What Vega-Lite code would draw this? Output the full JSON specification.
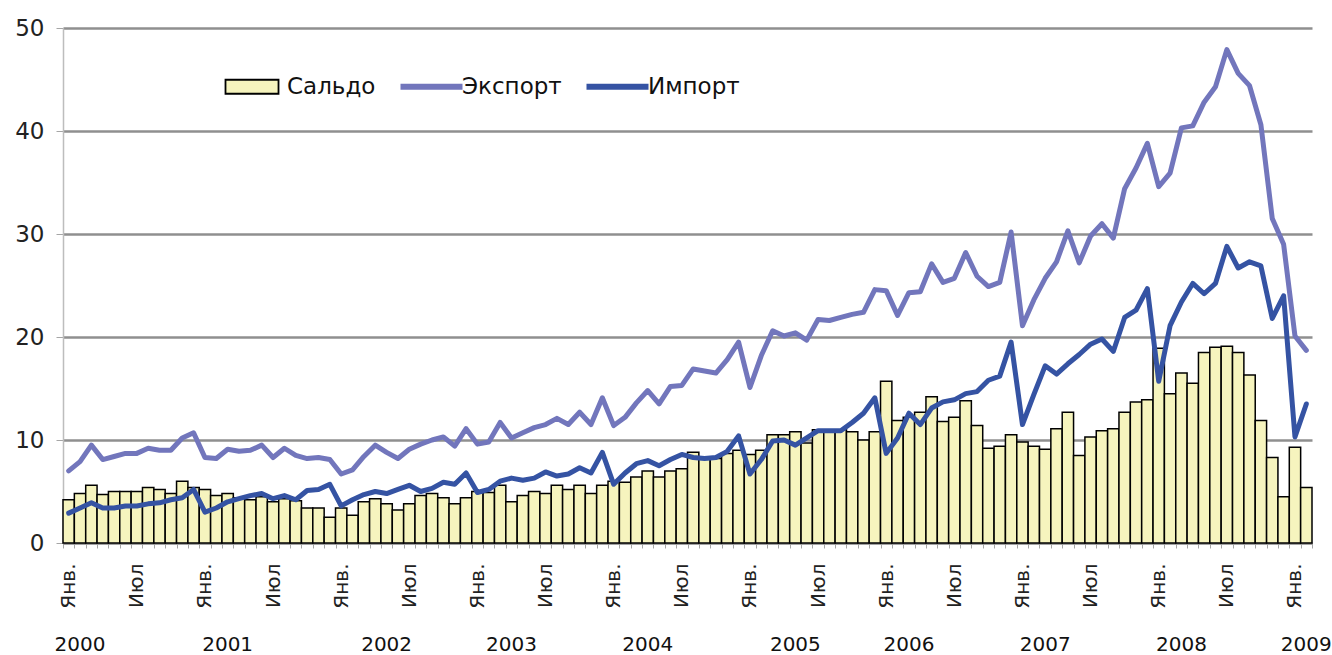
{
  "$schema": "https://vega.github.io/schema/vega-lite/v6.json",
  "width": 1249,
  "height": 515,
  "autosize": {"type": "none"},
  "padding": {"left": 63, "top": 28, "right": 20, "bottom": 112},
  "background": "white",
  "config": {
    "view": {"stroke": null},
    "font": "DejaVu Sans",
    "axis": {"labelFont": "DejaVu Sans", "labelColor": "#222222"},
    "legend": {"title": null}
  },
  "data": {
    "values": [
      {"month": "2000-01", "Сальдо": 4.2, "Экспорт": 7.0, "Импорт": 2.9},
      {"month": "2000-02", "Сальдо": 4.8, "Экспорт": 7.9, "Импорт": 3.4},
      {"month": "2000-03", "Сальдо": 5.6, "Экспорт": 9.5, "Импорт": 3.9},
      {"month": "2000-04", "Сальдо": 4.7, "Экспорт": 8.1, "Импорт": 3.4},
      {"month": "2000-05", "Сальдо": 5.0, "Экспорт": 8.4, "Импорт": 3.4},
      {"month": "2000-06", "Сальдо": 5.0, "Экспорт": 8.7, "Импорт": 3.6},
      {"month": "2000-07", "Сальдо": 5.0, "Экспорт": 8.7, "Импорт": 3.6},
      {"month": "2000-08", "Сальдо": 5.4, "Экспорт": 9.2, "Импорт": 3.8},
      {"month": "2000-09", "Сальдо": 5.2, "Экспорт": 9.0, "Импорт": 3.9},
      {"month": "2000-10", "Сальдо": 4.8, "Экспорт": 9.0, "Импорт": 4.2},
      {"month": "2000-11", "Сальдо": 6.0, "Экспорт": 10.2, "Импорт": 4.4},
      {"month": "2000-12", "Сальдо": 5.4, "Экспорт": 10.7, "Импорт": 5.2},
      {"month": "2001-01", "Сальдо": 5.2, "Экспорт": 8.3, "Импорт": 3.0},
      {"month": "2001-02", "Сальдо": 4.6, "Экспорт": 8.2, "Импорт": 3.4},
      {"month": "2001-03", "Сальдо": 4.8, "Экспорт": 9.1, "Импорт": 4.0},
      {"month": "2001-04", "Сальдо": 4.4, "Экспорт": 8.9, "Импорт": 4.3},
      {"month": "2001-05", "Сальдо": 4.2, "Экспорт": 9.0, "Импорт": 4.6},
      {"month": "2001-06", "Сальдо": 4.5, "Экспорт": 9.5, "Импорт": 4.8},
      {"month": "2001-07", "Сальдо": 4.0, "Экспорт": 8.3, "Импорт": 4.3},
      {"month": "2001-08", "Сальдо": 4.3, "Экспорт": 9.2, "Импорт": 4.6},
      {"month": "2001-09", "Сальдо": 4.1, "Экспорт": 8.5, "Импорт": 4.2},
      {"month": "2001-10", "Сальдо": 3.4, "Экспорт": 8.2, "Импорт": 5.1},
      {"month": "2001-11", "Сальдо": 3.4, "Экспорт": 8.3, "Импорт": 5.2},
      {"month": "2001-12", "Сальдо": 2.5, "Экспорт": 8.1, "Импорт": 5.7},
      {"month": "2002-01", "Сальдо": 3.4, "Экспорт": 6.7, "Импорт": 3.6},
      {"month": "2002-02", "Сальдо": 2.7, "Экспорт": 7.1, "Импорт": 4.2},
      {"month": "2002-03", "Сальдо": 4.0, "Экспорт": 8.4, "Импорт": 4.7},
      {"month": "2002-04", "Сальдо": 4.3, "Экспорт": 9.5, "Импорт": 5.0},
      {"month": "2002-05", "Сальдо": 3.8, "Экспорт": 8.8, "Импорт": 4.8},
      {"month": "2002-06", "Сальдо": 3.2, "Экспорт": 8.2, "Импорт": 5.2},
      {"month": "2002-07", "Сальдо": 3.8, "Экспорт": 9.1, "Импорт": 5.6},
      {"month": "2002-08", "Сальдо": 4.6, "Экспорт": 9.6, "Импорт": 5.0},
      {"month": "2002-09", "Сальдо": 4.8, "Экспорт": 10.0, "Импорт": 5.3},
      {"month": "2002-10", "Сальдо": 4.4, "Экспорт": 10.3, "Импорт": 5.9},
      {"month": "2002-11", "Сальдо": 3.8, "Экспорт": 9.4, "Импорт": 5.7},
      {"month": "2002-12", "Сальдо": 4.4, "Экспорт": 11.1, "Импорт": 6.8},
      {"month": "2003-01", "Сальдо": 5.0, "Экспорт": 9.6, "Импорт": 4.9},
      {"month": "2003-02", "Сальдо": 4.9, "Экспорт": 9.8, "Импорт": 5.2},
      {"month": "2003-03", "Сальдо": 5.6, "Экспорт": 11.7, "Импорт": 6.0},
      {"month": "2003-04", "Сальдо": 4.0, "Экспорт": 10.2, "Импорт": 6.3},
      {"month": "2003-05", "Сальдо": 4.6, "Экспорт": 10.7, "Импорт": 6.1},
      {"month": "2003-06", "Сальдо": 5.0, "Экспорт": 11.2, "Импорт": 6.3},
      {"month": "2003-07", "Сальдо": 4.8, "Экспорт": 11.5, "Импорт": 6.9},
      {"month": "2003-08", "Сальдо": 5.6, "Экспорт": 12.1, "Импорт": 6.5},
      {"month": "2003-09", "Сальдо": 5.2, "Экспорт": 11.5, "Импорт": 6.7},
      {"month": "2003-10", "Сальдо": 5.6, "Экспорт": 12.7, "Импорт": 7.3},
      {"month": "2003-11", "Сальдо": 4.8, "Экспорт": 11.5, "Импорт": 6.8},
      {"month": "2003-12", "Сальдо": 5.6, "Экспорт": 14.1, "Импорт": 8.8},
      {"month": "2004-01", "Сальдо": 6.0, "Экспорт": 11.4, "Импорт": 5.7},
      {"month": "2004-02", "Сальдо": 5.9, "Экспорт": 12.2, "Импорт": 6.8},
      {"month": "2004-03", "Сальдо": 6.4, "Экспорт": 13.6, "Импорт": 7.7},
      {"month": "2004-04", "Сальдо": 7.0, "Экспорт": 14.8, "Импорт": 8.0},
      {"month": "2004-05", "Сальдо": 6.4, "Экспорт": 13.5, "Импорт": 7.5},
      {"month": "2004-06", "Сальдо": 7.0, "Экспорт": 15.2, "Импорт": 8.1},
      {"month": "2004-07", "Сальдо": 7.2, "Экспорт": 15.3, "Импорт": 8.6},
      {"month": "2004-08", "Сальдо": 8.8, "Экспорт": 16.9, "Импорт": 8.3},
      {"month": "2004-09", "Сальдо": 8.3, "Экспорт": 16.7, "Импорт": 8.2},
      {"month": "2004-10", "Сальдо": 8.2, "Экспорт": 16.5, "Импорт": 8.3},
      {"month": "2004-11", "Сальдо": 8.7, "Экспорт": 17.8, "Импорт": 8.9},
      {"month": "2004-12", "Сальдо": 9.0, "Экспорт": 19.5, "Импорт": 10.4},
      {"month": "2005-01", "Сальдо": 8.6, "Экспорт": 15.1, "Импорт": 6.7},
      {"month": "2005-02", "Сальдо": 9.0, "Экспорт": 18.2, "Импорт": 8.1},
      {"month": "2005-03", "Сальдо": 10.5, "Экспорт": 20.6, "Импорт": 9.9},
      {"month": "2005-04", "Сальдо": 10.5, "Экспорт": 20.1, "Импорт": 10.0},
      {"month": "2005-05", "Сальдо": 10.8, "Экспорт": 20.4, "Импорт": 9.5},
      {"month": "2005-06", "Сальдо": 9.7, "Экспорт": 19.7, "Импорт": 10.2},
      {"month": "2005-07", "Сальдо": 11.0, "Экспорт": 21.7, "Импорт": 10.9},
      {"month": "2005-08", "Сальдо": 11.0, "Экспорт": 21.6, "Импорт": 10.9},
      {"month": "2005-09", "Сальдо": 11.0, "Экспорт": 21.9, "Импорт": 10.9},
      {"month": "2005-10", "Сальдо": 10.8, "Экспорт": 22.2, "Импорт": 11.7},
      {"month": "2005-11", "Сальдо": 10.0, "Экспорт": 22.4, "Импорт": 12.6},
      {"month": "2005-12", "Сальдо": 10.8, "Экспорт": 24.6, "Импорт": 14.1},
      {"month": "2006-01", "Сальдо": 15.7, "Экспорт": 24.5, "Импорт": 8.7},
      {"month": "2006-02", "Сальдо": 11.9, "Экспорт": 22.1, "Импорт": 10.2},
      {"month": "2006-03", "Сальдо": 12.2, "Экспорт": 24.3, "Импорт": 12.6},
      {"month": "2006-04", "Сальдо": 12.7, "Экспорт": 24.4, "Импорт": 11.5},
      {"month": "2006-05", "Сальдо": 14.2, "Экспорт": 27.1, "Импорт": 13.1},
      {"month": "2006-06", "Сальдо": 11.8, "Экспорт": 25.3, "Импорт": 13.7},
      {"month": "2006-07", "Сальдо": 12.2, "Экспорт": 25.7, "Импорт": 13.9},
      {"month": "2006-08", "Сальдо": 13.8, "Экспорт": 28.2, "Импорт": 14.5},
      {"month": "2006-09", "Сальдо": 11.4, "Экспорт": 25.9, "Импорт": 14.7},
      {"month": "2006-10", "Сальдо": 9.2, "Экспорт": 24.9, "Импорт": 15.8},
      {"month": "2006-11", "Сальдо": 9.4, "Экспорт": 25.3, "Импорт": 16.2},
      {"month": "2006-12", "Сальдо": 10.5, "Экспорт": 30.2, "Импорт": 19.5},
      {"month": "2007-01", "Сальдо": 9.8, "Экспорт": 21.1, "Импорт": 11.5},
      {"month": "2007-02", "Сальдо": 9.4, "Экспорт": 23.6, "Импорт": 14.4},
      {"month": "2007-03", "Сальдо": 9.1, "Экспорт": 25.7, "Импорт": 17.2},
      {"month": "2007-04", "Сальдо": 11.1, "Экспорт": 27.3, "Импорт": 16.4},
      {"month": "2007-05", "Сальдо": 12.7, "Экспорт": 30.3, "Импорт": 17.4},
      {"month": "2007-06", "Сальдо": 8.5, "Экспорт": 27.2, "Импорт": 18.3},
      {"month": "2007-07", "Сальдо": 10.3, "Экспорт": 29.8, "Импорт": 19.3},
      {"month": "2007-08", "Сальдо": 10.9, "Экспорт": 31.0, "Импорт": 19.8},
      {"month": "2007-09", "Сальдо": 11.1, "Экспорт": 29.6, "Импорт": 18.6},
      {"month": "2007-10", "Сальдо": 12.7, "Экспорт": 34.4, "Импорт": 21.9},
      {"month": "2007-11", "Сальдо": 13.7, "Экспорт": 36.4, "Импорт": 22.6},
      {"month": "2007-12", "Сальдо": 13.9, "Экспорт": 38.8, "Импорт": 24.7},
      {"month": "2008-01", "Сальдо": 18.9, "Экспорт": 34.6, "Импорт": 15.7},
      {"month": "2008-02", "Сальдо": 14.5, "Экспорт": 35.9, "Импорт": 21.1},
      {"month": "2008-03", "Сальдо": 16.5, "Экспорт": 40.3, "Импорт": 23.4},
      {"month": "2008-04", "Сальдо": 15.5, "Экспорт": 40.5, "Импорт": 25.2},
      {"month": "2008-05", "Сальдо": 18.5, "Экспорт": 42.8, "Импорт": 24.2},
      {"month": "2008-06", "Сальдо": 19.0, "Экспорт": 44.3, "Импорт": 25.2},
      {"month": "2008-07", "Сальдо": 19.1, "Экспорт": 47.9, "Импорт": 28.8},
      {"month": "2008-08", "Сальдо": 18.5, "Экспорт": 45.6, "Импорт": 26.7},
      {"month": "2008-09", "Сальдо": 16.3, "Экспорт": 44.4, "Импорт": 27.3},
      {"month": "2008-10", "Сальдо": 11.9, "Экспорт": 40.6, "Импорт": 26.9},
      {"month": "2008-11", "Сальдо": 8.3, "Экспорт": 31.5, "Импорт": 21.8},
      {"month": "2008-12", "Сальдо": 4.5, "Экспорт": 29.0, "Импорт": 24.0},
      {"month": "2009-01", "Сальдо": 9.3, "Экспорт": 20.1, "Импорт": 10.3},
      {"month": "2009-02", "Сальдо": 5.4, "Экспорт": 18.7, "Импорт": 13.5}
    ]
  },
  "encoding": {
    "x": {
      "field": "month",
      "type": "ordinal",
      "scale": {"paddingInner": 0, "paddingOuter": 0},
      "axis": {
        "title": null,
        "tickBand": "extent",
        "tickSize": 5,
        "tickColor": "#a6a6a6",
        "domainColor": "#8c8c8c",
        "domainWidth": 1.5,
        "labelAngle": 270,
        "labelAlign": "right",
        "labelBaseline": "middle",
        "labelPadding": 15,
        "labelFontSize": 20,
        "labelOverlap": false,
        "labelExpr": "substring(datum.value,5,7)=='01' ? 'Янв.' : (substring(datum.value,5,7)=='07' ? 'Июл' : '')"
      }
    }
  },
  "layer": [
    {
      "mark": {"type": "bar", "fill": "#f6f4be", "stroke": "#000000", "strokeWidth": 1.5},
      "encoding": {
        "y": {
          "field": "Сальдо",
          "type": "quantitative",
          "scale": {"domain": [0, 50]},
          "axis": {
            "title": null,
            "values": [0, 10, 20, 30, 40, 50],
            "grid": true,
            "gridColor": "#8f8f8f",
            "gridWidth": 2.5,
            "domainColor": "#bdbdbd",
            "domainWidth": 1.5,
            "tickColor": "#a6a6a6",
            "tickSize": 7,
            "labelFontSize": 23,
            "labelPadding": 12
          }
        }
      }
    },
    {
      "transform": [{"fold": ["Экспорт", "Импорт"], "as": ["series", "value"]}],
      "mark": {"type": "line", "strokeWidth": 5, "strokeJoin": "round", "strokeCap": "round"},
      "encoding": {
        "y": {"field": "value", "type": "quantitative"},
        "color": {
          "field": "series",
          "type": "nominal",
          "scale": {
            "domain": ["Сальдо", "Экспорт", "Импорт"],
            "range": ["#000000", "#7276bc", "#3553a3"]
          },
          "legend": {
            "title": null,
            "orient": "none",
            "legendX": 182,
            "legendY": 47,
            "direction": "horizontal",
            "columnPadding": 12,
            "symbolSize": 3844,
            "labelFontSize": 23,
            "labelFont": "DejaVu Sans",
            "labelColor": "#111111",
            "labelOffset": 19,
            "labelLimit": 0,
            "encode": {
              "symbols": {
                "update": {
                  "shape": {"signal": "datum.value === 'Сальдо' ? 'M-1,-0.226H0.71V0.226H-1Z' : 'M-1,0H1'"},
                  "fill": {"signal": "datum.value === 'Сальдо' ? '#f6f4be' : 'transparent'"},
                  "strokeWidth": {"signal": "datum.value === 'Сальдо' ? 1.8 : 6"},
                  "opacity": {"value": 1}
                }
              }
            }
          }
        }
      }
    },
    {
      "data": {
        "values": [
          {"month": "2000-02", "year": "2000"},
          {"month": "2001-03", "year": "2001"},
          {"month": "2002-05", "year": "2002"},
          {"month": "2003-04", "year": "2003"},
          {"month": "2004-04", "year": "2004"},
          {"month": "2005-05", "year": "2005"},
          {"month": "2006-03", "year": "2006"},
          {"month": "2007-03", "year": "2007"},
          {"month": "2008-03", "year": "2008"},
          {"month": "2009-02", "year": "2009"}
        ]
      },
      "mark": {"type": "text", "fontSize": 20, "font": "DejaVu Sans", "color": "#111111", "baseline": "middle", "dy": 102},
      "encoding": {
        "y": {"datum": 0, "type": "quantitative"},
        "text": {"field": "year"}
      }
    }
  ]
}
